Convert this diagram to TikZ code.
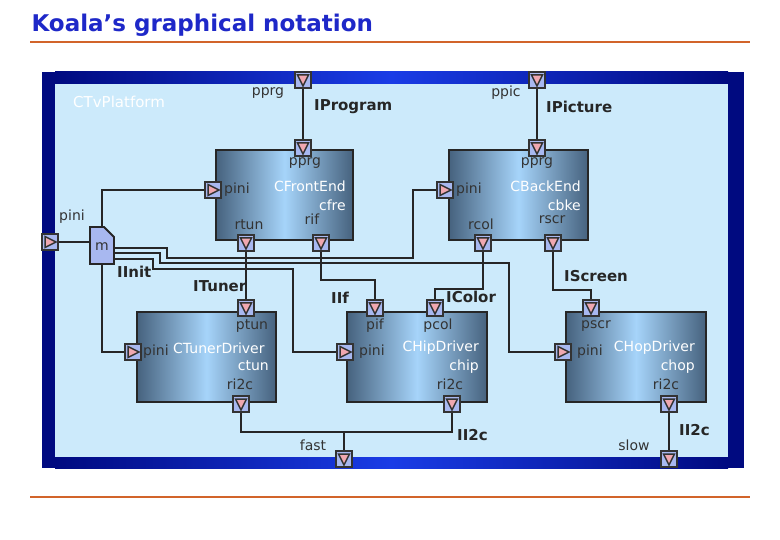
\documentclass[tikz,border=0pt]{standalone}
\usepackage{fontspec}
\setmainfont{DejaVu Sans}
\usetikzlibrary{shapes.geometric}

\definecolor{navy}{HTML}{000A80}
\definecolor{brightblue}{HTML}{1A3CE6}
\definecolor{paleblue}{HTML}{CCEAFB}
\definecolor{portblue}{HTML}{A8B8F0}
\definecolor{portpink}{HTML}{F0A8B0}
\definecolor{steel}{HTML}{46627E}
\definecolor{lightsteel}{HTML}{A6D4FA}
\definecolor{rule}{HTML}{D2642A}
\definecolor{titleblue}{HTML}{1E28C8}

\tikzset{
  port/.style={draw=black!80, fill=portblue, line width=1.5pt, minimum size=16pt, inner sep=0pt},
  comp/.style={draw=black!85, line width=2pt, left color=steel, right color=steel, middle color=lightsteel, shading angle=90},
  wire/.style={line width=2pt, black!85},
  lbl/.style={font=\fontsize{14}{14}\selectfont, text=black!80, inner sep=1pt},
  wlbl/.style={lbl, text=white},
  ilbl/.style={font=\fontsize{15}{15}\selectfont\bfseries, text=black!85, inner sep=1pt}
}

\begin{document}
\begin{tikzpicture}[x=1pt,y=-1pt]
  \useasboundingbox (0,0) rectangle (780,540);

  % title
  \node[anchor=west, font=\fontsize{23}{23}\selectfont\bfseries, text=titleblue] (title) at (28,25) {Koala’s graphical notation};
  \draw[rule, line width=1.2pt] (30,42) -- (750,42);
  \draw[rule, line width=1.2pt] (30,497) -- (750,497);

  % platform frame
  \fill[navy] (42,72) rectangle (744,468);
  \shade[left color=navy, right color=navy, middle color=brightblue] (55,72) rectangle (728,84);
  \shade[left color=navy, right color=navy, middle color=brightblue] (55,457) rectangle (728,468);
  \fill[paleblue] (55,84) rectangle (728,457);
  \node[wlbl, anchor=west, font=\fontsize{15}{15}\selectfont] (plat) at (72,102) {CTvPlatform};

  % components
  \node[comp, minimum width=137pt, minimum height=90pt] (fe)  at (284.5,195) {};
  \node[comp, minimum width=139pt, minimum height=90pt] (be)  at (518.5,195) {};
  \node[comp, minimum width=139pt, minimum height=90pt] (tun) at (206.5,357) {};
  \node[comp, minimum width=140pt, minimum height=90pt] (hip) at (417,357) {};
  \node[comp, minimum width=140pt, minimum height=90pt] (hop) at (636,357) {};

  % module m
  \draw[line width=1.8pt, black!85, fill=portblue] (90,227) -- (104,227) -- (114,237) -- (114,264) -- (90,264) -- cycle;
  \node[lbl] (m) at (102,247) {m};
  \coordinate (mt) at (102,227);
  \coordinate (mb) at (102,264);

  % ports
  \foreach \n/\x/\y in {pprg/303/80, ppic/537/80, feprg/303/148, bepic/537/148,
      rtun/246/243, rif/321/243, rcol/483/243, rscr/553/243,
      ptun/246/308, pif/375/308, pcol/435/308, pscr/591/308,
      tri/241/404, hri/452/404, ori/669/404, fast/344/459, slow/669/459}
    \node[port] (\n) at (\x,\y) {};
  \foreach \n/\x/\y in {xini/50/242, feini/213/190, beini/445/190,
      tini/133/352, hini/345/352, oini/563/352}
    \node[port] (\n) at (\x,\y) {};

  % wires
  \draw[wire] (pprg) -- (feprg);
  \draw[wire] (ppic) -- (bepic);
  \draw[wire] (xini) -- (90,242);
  \draw[wire] (mt) |- (feini);
  \draw[wire] (mb) |- (tini);
  \draw[wire] (114,248) -- (167,248) -- (167,258) -- (413,258) |- (beini);
  \draw[wire] (114,253) -- (160,253) -- (160,263) -- (509,263) |- (oini);
  \draw[wire] (114,259) -- (153,259) -- (153,269) -- (293,269) |- (hini);
  \draw[wire] (rtun) -- (ptun);
  \draw[wire] (rif) |- (375,280) -- (pif);
  \draw[wire] (rcol) |- (435,289) -- (pcol);
  \draw[wire] (rscr) |- (591,290) -- (pscr);
  \draw[wire] (tri) |- (452,432) -- (hri);
  \draw[wire] (344,432) -- (fast);
  \draw[wire] (ori) -- (slow);

  % port triangles
  \foreach \n in {pprg, ppic, feprg, bepic, rtun, rif, rcol, rscr, ptun, pif, pcol, pscr, tri, hri, ori, fast, slow}
    \filldraw[fill=portpink, draw=black!80, line width=1.5pt]
      ([shift={(-5.5,-5)}]\n.center) -- ([shift={(5.5,-5)}]\n.center) -- ([shift={(0,6)}]\n.center) -- cycle;
  \foreach \n in {xini, feini, beini, tini, hini, oini}
    \filldraw[fill=portpink, draw=black!80, line width=1.5pt]
      ([shift={(-5,-5.5)}]\n.center) -- ([shift={(-5,5.5)}]\n.center) -- ([shift={(6,0)}]\n.center) -- cycle;

  % port labels
  \node[lbl] at (268,93) {pprg};
  \node[lbl] at (506,93) {ppic};
  \node[lbl] at (72,217) {pini};
  \node[lbl] at (305,163) {pprg};
  \node[lbl, anchor=west] at (223,190) {pini};
  \node[lbl] at (249,225) {rtun};
  \node[lbl] at (312,219) {rif};
  \node[lbl] at (537,163) {pprg};
  \node[lbl, anchor=west] at (455,190) {pini};
  \node[lbl] at (481,224) {rcol};
  \node[lbl] at (552,220) {rscr};
  \node[lbl] at (252,326) {ptun};
  \node[lbl, anchor=west] at (142,352) {pini};
  \node[lbl] at (240,384) {ri2c};
  \node[lbl] at (375,326) {pif};
  \node[lbl] at (438,326) {pcol};
  \node[lbl, anchor=west] at (358,352) {pini};
  \node[lbl] at (450,384) {ri2c};
  \node[lbl] at (596,326) {pscr};
  \node[lbl, anchor=west] at (576,352) {pini};
  \node[lbl] at (666,384) {ri2c};
  \node[lbl] at (313,445) {fast};
  \node[lbl] at (634,445) {slow};

  % component names
  \node[wlbl, anchor=east] at (347,186) {CFrontEnd};
  \node[wlbl, anchor=east] at (347,205) {cfre};
  \node[wlbl, anchor=east] at (582,186) {CBackEnd};
  \node[wlbl, anchor=east] at (582,205) {cbke};
  \node[wlbl, anchor=west] at (172,348) {CTunerDriver};
  \node[wlbl, anchor=east] at (270,366) {ctun};
  \node[wlbl, anchor=east] at (480,348) {CHipDriver};
  \node[wlbl, anchor=east] at (480,367) {chip};
  \node[wlbl, anchor=east] at (696,348) {CHopDriver};
  \node[wlbl, anchor=east] at (696,367) {chop};

  % interface names
  \node[ilbl, anchor=west] at (313,107) {IProgram};
  \node[ilbl, anchor=west] at (545,107) {IPicture};
  \node[ilbl, anchor=west] at (116,272) {IInit};
  \node[ilbl, anchor=west] at (192,286) {ITuner};
  \node[ilbl, anchor=west] at (330,298) {IIf};
  \node[ilbl, anchor=west] at (445,297) {IColor};
  \node[ilbl, anchor=west] at (563,276) {IScreen};
  \node[ilbl, anchor=west] at (456,435) {II2c};
  \node[ilbl, anchor=west] at (678,430) {II2c};
\end{tikzpicture}
\end{document}
